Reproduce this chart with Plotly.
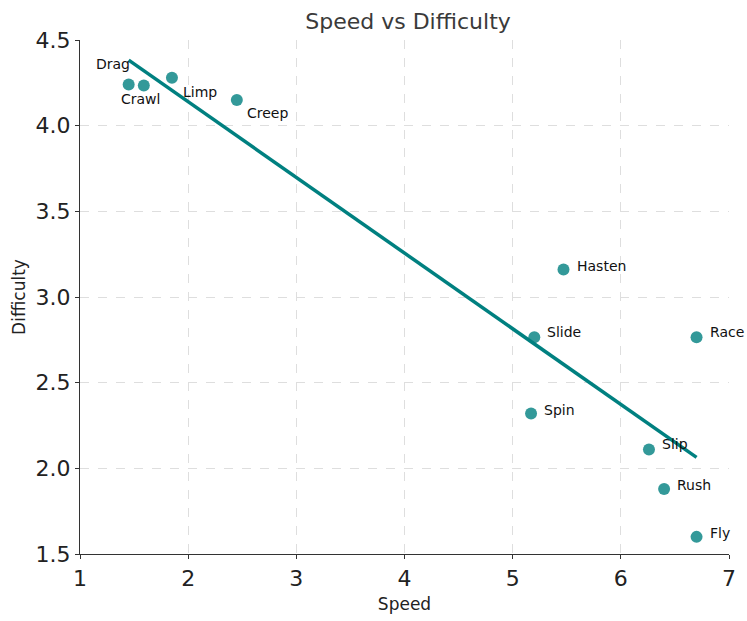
import numpy as np
import plotly.graph_objects as go

words = ["Drag", "Crawl", "Limp", "Creep", "Hasten", "Slide", "Race", "Spin", "Slip", "Rush", "Fly"]
speed = [1.45, 1.59, 1.85, 2.45, 5.47, 5.20, 6.70, 5.17, 6.26, 6.40, 6.70]
difficulty = [4.24, 4.235, 4.28, 4.15, 3.16, 2.765, 2.765, 2.32, 2.11, 1.88, 1.60]

# label offsets (pixels) relative to each point
label_dx = [-16, -3, 28, 31, 11, 11, 11, 11, 11, 11, 11]
label_dy = [21, -14, -14, -13, 4, 5, 5, 4, 5, 4, 4]
label_anchor = ["center", "center", "center", "center", "left", "left", "left", "left", "left", "left", "left"]

x = np.array(speed)
y = np.array(difficulty)
slope, intercept = np.polyfit(x, y, 1)
fit_x = np.array([x.min(), x.max()])
fit_y = slope * fit_x + intercept

fig = go.Figure()
fig.add_trace(go.Scatter(x=speed, y=difficulty, mode="markers",
                         marker=dict(size=12, color="rgba(0,128,128,0.8)", line=dict(width=0)),
                         showlegend=False, cliponaxis=False))
fig.add_trace(go.Scatter(x=fit_x, y=fit_y, mode="lines",
                         line=dict(color="#008080", width=3.5), showlegend=False))

for w, sx, dy_, dx, dy, anc in zip(words, speed, difficulty, label_dx, label_dy, label_anchor):
    fig.add_annotation(x=sx, y=dy_, text=w, showarrow=False, xanchor=anc, yanchor="middle",
                       xshift=dx, yshift=dy, font=dict(size=14, color="#111", family="DejaVu Sans"))

fig.update_layout(
    width=747, height=621,
    margin=dict(l=80, r=11, t=40, b=55),
    plot_bgcolor="white", paper_bgcolor="white",
    title=dict(text="Speed vs Difficulty", x=408 / 747, xanchor="center",
               y=1 - 21 / 621, yanchor="middle",
               font=dict(size=22, color="#3a3a3a", family="DejaVu Sans")),
    font=dict(family="DejaVu Sans", color="#222"),
)
fig.update_xaxes(range=[1, 7], dtick=1, showgrid=True, gridcolor="#dedede", griddash="dash", gridwidth=1,
                 showline=True, linecolor="#333", linewidth=1.3, ticks="outside", ticklen=4, tickcolor="#333",
                 tickfont=dict(size=22, color="#222"), zeroline=False,
                 title=dict(text="Speed", font=dict(size=17, color="#222"), standoff=8))
fig.update_yaxes(range=[1.5, 4.5], dtick=0.5, tickformat=".1f", showgrid=True, gridcolor="#dedede", griddash="dash",
                 gridwidth=1, showline=True, linecolor="#333", linewidth=1.3, ticks="outside", ticklen=4,
                 tickcolor="#333", tickfont=dict(size=22, color="#222"), zeroline=False,
                 title=dict(text="Difficulty", font=dict(size=17, color="#222"), standoff=5))

fig.write_html("out.html", config={"displayModeBar": False},
               post_script="document.body.style.margin='0';")
